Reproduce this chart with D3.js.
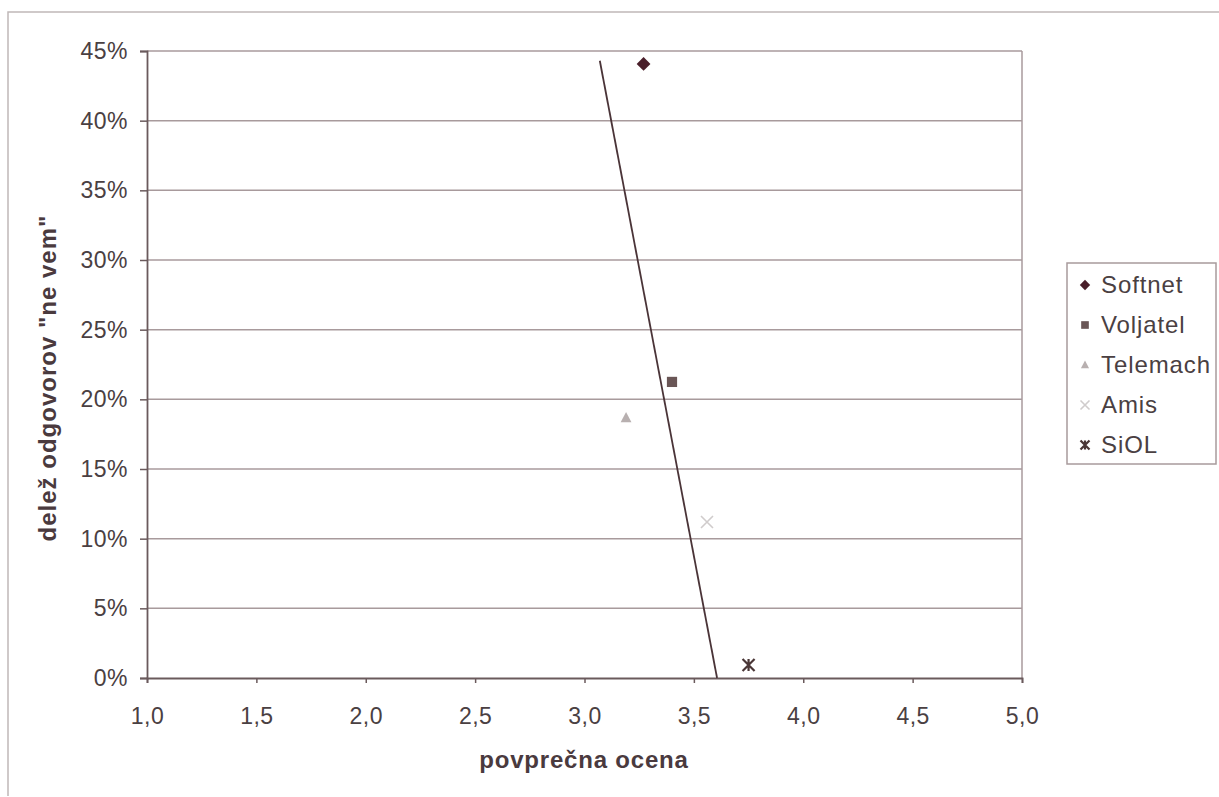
<!DOCTYPE html>
<html><head><meta charset="utf-8">
<script src="https://cdn.jsdelivr.net/npm/d3@7"></script>
<style>
body{margin:0;background:#fff;}
text{font-family:"Liberation Sans",Arial,sans-serif;}
</style></head>
<body>
<svg id="c" width="1219" height="797"></svg>
<script>
const seriesNames = ["Softnet","Voljatel","Telemach","Amis","SiOL"];
const xValues = [3.27, 3.40, 3.19, 3.56, 3.75];
const yValues = [0.4407, 0.2125, 0.1866, 0.112, 0.0093];
const trendX = [3.07, 3.606];
const trendY = [0.443, 0.0];
const xTicks = [1.0,1.5,2.0,2.5,3.0,3.5,4.0,4.5,5.0];
const yTicks = [0,0.05,0.10,0.15,0.20,0.25,0.30,0.35,0.40,0.45];
const xTitle = "povprečna ocena";
const yTitle = "delež odgovorov \"ne vem\"";

const colors = ["#4a1f2a","#6a5656","#b8b0b0","#d0cccc","#4a3636"];
const symbols = ["diamond","square","triangle","x","star"];

const svg = d3.select("#c");
const L=147, R=1022, T=51, B=678;
const x = d3.scaleLinear().domain([1,5]).range([L,R]);
const y = d3.scaleLinear().domain([0,0.45]).range([B,T]);

// outer border
svg.append("path").attr("d",`M8,796 L8,12 L1219,12`).attr("fill","none").attr("stroke","#c0b8b8").attr("stroke-width",1.5);

// gridlines
svg.append("g").selectAll("line").data(yTicks.filter(d=>d>0)).join("line")
  .attr("x1",L).attr("x2",R).attr("y1",d=>y(d)).attr("y2",d=>y(d))
  .attr("stroke","#a89a9c").attr("stroke-width",1.5);
// right border
svg.append("line").attr("x1",R).attr("x2",R).attr("y1",T).attr("y2",B).attr("stroke","#a89a9c").attr("stroke-width",1.5);

const fmtX = d=>d3.format(".1f")(d).replace(".",",");
const fmtY = d=>Math.round(d*100)+"%";

const xa = svg.append("g").attr("transform",`translate(0,${B})`)
  .call(d3.axisBottom(x).tickValues(xTicks).tickFormat(fmtX).tickSize(5).tickPadding(25));
const ya = svg.append("g").attr("transform",`translate(${L},0)`)
  .call(d3.axisLeft(y).tickValues(yTicks).tickFormat(fmtY).tickSize(7).tickPadding(12));
[xa,ya].forEach(a=>{
  a.select(".domain").attr("stroke","#6a5a5c").attr("stroke-width",1.8);
  a.selectAll(".tick line").attr("stroke","#6a5a5c").attr("stroke-width",1.5);
  a.selectAll("text").attr("font-size",23).attr("fill","#4a4042").attr("letter-spacing",0.5).attr("font-family","Liberation Sans, Arial, sans-serif");
});

// trendline
svg.append("line").attr("x1",x(trendX[0])).attr("y1",y(trendY[0])).attr("x2",x(trendX[1])).attr("y2",y(trendY[1]))
  .attr("stroke","#4a3438").attr("stroke-width",1.8);

function drawMarker(g, i, cx, cy, s){
  const sym = symbols[i];
  if(sym==="x"){
    g.append("path").attr("d",`M${cx-s},${cy-s}L${cx+s},${cy+s}M${cx-s},${cy+s}L${cx+s},${cy-s}`)
      .attr("stroke",colors[i]).attr("stroke-width",1.6).attr("fill","none");
  } else if(sym==="star"){
    g.append("path").attr("d",`M${cx-s},${cy-s}L${cx+s},${cy+s}M${cx-s},${cy+s}L${cx+s},${cy-s}M${cx},${cy-s}L${cx},${cy+s}`)
      .attr("stroke",colors[i]).attr("stroke-width",2.2).attr("fill","none");
  } else if(sym==="diamond"){
    const d=s*1.15;
    g.append("path").attr("d",`M${cx},${cy-d}L${cx+d},${cy}L${cx},${cy+d}L${cx-d},${cy}Z`).attr("fill",colors[i]);
  } else if(sym==="square"){
    const d=s*0.85;
    g.append("rect").attr("x",cx-d).attr("y",cy-d).attr("width",2*d).attr("height",2*d).attr("fill",colors[i]);
  } else {
    g.append("path").attr("d",`M${cx},${cy-s}L${cx+s*0.9},${cy+s*0.7}L${cx-s*0.9},${cy+s*0.7}Z`).attr("fill",colors[i]);
  }
}

const pts = svg.append("g");
seriesNames.forEach((n,i)=>drawMarker(pts,i,x(xValues[i]),y(yValues[i]),6));

// axis titles
svg.append("text").attr("x",584).attr("y",768).attr("text-anchor","middle").attr("letter-spacing",0.8)
  .attr("font-size",24).attr("font-weight","bold").attr("fill","#4a3a3e").text(xTitle);
svg.append("text").attr("transform",`translate(56,378) rotate(-90)`).attr("text-anchor","middle").attr("letter-spacing",1)
  .attr("font-size",24).attr("font-weight","bold").attr("fill","#4a3a3e").text(yTitle);

// legend
const lg = svg.append("g");
lg.append("rect").attr("x",1067).attr("y",263).attr("width",149).attr("height",201)
  .attr("fill","#fff").attr("stroke","#a89a9c").attr("stroke-width",1.5);
seriesNames.forEach((n,i)=>{
  const cy = 284 + i*40;
  drawMarker(lg,i,1085,cy+1,4.5);
  lg.append("text").attr("x",1101).attr("y",cy+9).attr("font-size",24).attr("letter-spacing",0.9).attr("fill","#4a4042").text(n);
});
</script>
</body></html>
